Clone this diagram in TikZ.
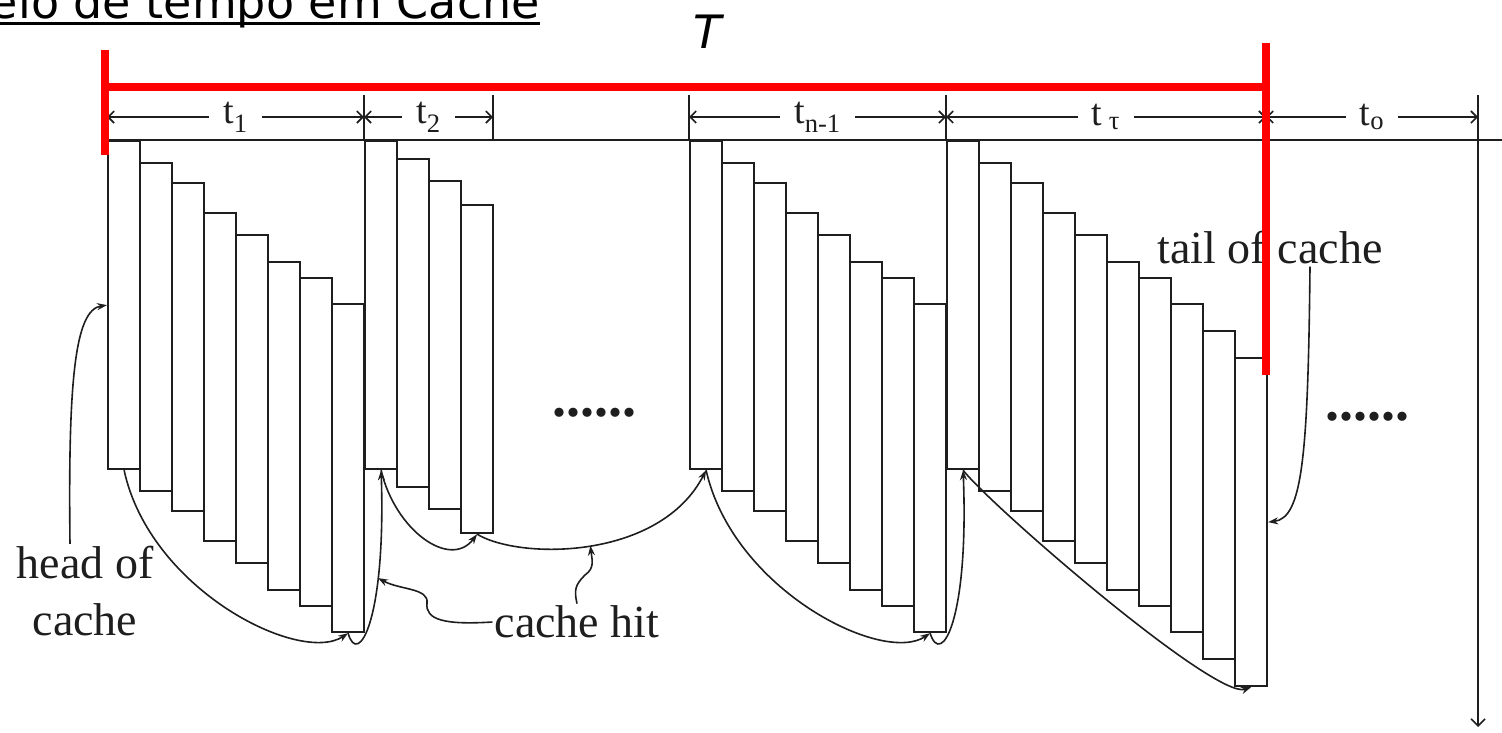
\documentclass[tikz,border=0pt]{standalone}
\usepackage{fontspec}
\setmainfont{Liberation Serif}
\newfontfamily\headfont{DejaVu Sans}
\usetikzlibrary{arrows.meta,positioning}
\definecolor{spanred}{RGB}{255,0,0}
\definecolor{inkgray}{RGB}{30,30,30}

\begin{document}
\begin{tikzpicture}[
    x=1pt, y=-1pt,
    bar/.style={rectangle, draw=inkgray, fill=white, line width=2.2pt, minimum width=32pt,
                minimum height=328pt, inner sep=0pt, anchor=north west},
    guide/.style={draw=inkgray, line width=1.6pt},
    dim/.style={guide, {Straight Barb[length=6pt,width=12pt]}-{Straight Barb[length=6pt,width=12pt]}},
    dimlabel/.style={fill=white, inner xsep=14pt, inner ysep=1pt, text=inkgray, font=\fontsize{38}{40}\selectfont},
    hit/.style={draw=inkgray, line width=1.6pt, -{Stealth[length=10pt,width=7pt]}},
    lbl/.style={font=\fontsize{46}{57}\selectfont, text=inkgray, align=center, inner sep=2pt},
    span/.style={draw=spanred, line width=8pt},
    dotrow/.style={font=\bfseries\fontsize{56}{60}\selectfont, text=inkgray, inner sep=0pt}
]
\useasboundingbox (0,0) rectangle (1502,732);
\clip (0,0) rectangle (1502,732);

% time line and interval marks
\coordinate (top0) at (107,140);
\coordinate (topend) at (1502,140);
\draw[guide] (top0) -- (topend);
\foreach \x [count=\i] in {107,364,493,689,946,1266,1478}
  \coordinate (e\i) at (\x,117);
\foreach \i in {1,...,6}
  \draw[guide] ([yshift=22pt]e\i) -- ([yshift=-23pt]e\i);
\draw[dim] (e1) -- node[dimlabel] {t\textsubscript{1}} (e2);
\draw[dim] (e2) -- node[dimlabel] {t\textsubscript{2}} (e3);
\draw[dim] (e4) -- node[dimlabel] {t\textsubscript{n-1}} (e5);
\draw[dim] (e5) -- node[dimlabel] {t\,\textsubscript{τ}} (e6);
\draw[dim] (e6) -- node[dimlabel] {t\textsubscript{o}} (e7);
\coordinate (axisend) at (1478,727);
\draw[guide, -{Straight Barb[length=7pt,width=14pt]}] ([yshift=22pt]e7) -- (axisend);

% cache contents, one bar per entry
\foreach \dy [count=\i] in {0,22,42,72,94,121,137,163}
  \node[bar] (a\i) at ({107+32*(\i-1)},{140+\dy}) {};
\foreach \dy [count=\i] in {0,18,40,64}
  \node[bar] (b\i) at ({364+32*(\i-1)},{140+\dy}) {};
\foreach \dy [count=\i] in {0,22,42,72,94,121,137,163}
  \node[bar] (c\i) at ({689+32*(\i-1)},{140+\dy}) {};
\foreach \dy [count=\i] in {0,22,42,72,94,121,137,163,190,217}
  \node[bar] (d\i) at ({946+32*(\i-1)},{140+\dy}) {};

\node[dotrow] (gapa) at (594,413) {......};
\node[dotrow] (gapb) at (1367,417) {......};

% hits between entries
\draw[hit] (a1.south) .. controls (150,590) and (300,665) .. (a8.south);
\draw[hit] (a8.south) .. controls (358,668) and (386,620) .. (b1.south) coordinate[pos=0.7] (hitA);
\draw[hit] (b1.south) .. controls (395,530) and (450,570) .. (b4.south);
\draw[hit] (b4.south) .. controls (520,560) and (660,560) .. (c1.south) coordinate[pos=0.5] (hitB);
\draw[hit] (c1.south) .. controls (733,590) and (883,665) .. (c8.south);
\draw[hit] (c8.south) .. controls (941,668) and (969,620) .. (d1.south);
\draw[hit] (d1.south) .. controls (990,505) and (1215,700) .. (d10.south);

% labels
\node[lbl] (head) at (85,591) {head of\\cache};
\node[lbl] (hitlbl) at (577,622) {cache hit};
\node[lbl] (tail) at (1270,248) {tail of cache};
\draw[hit] ([xshift=-15pt]head.north) .. controls (68,380) and (75,310) .. (a1.west);
\draw[hit] ([xshift=40pt]tail.south) .. controls (1308,460) and (1302,518) .. (d10.east);
\draw[hit] (hitlbl.west) .. controls (445,625) and (425,620) .. (427,603)
  .. controls (429,588) and (400,590) .. (hitA);
\draw[hit] (hitlbl.north) .. controls (574,590) and (575,585) .. (585,575)
  .. controls (595,568) and (592,560) .. (hitB);

% heading
\node[font=\headfont\fontsize{46}{50}\selectfont, anchor=base east, inner sep=0pt] (title) at (540,18) {elo de tempo em Cache};
\draw[line width=3pt] ([yshift=-5pt]title.base west) -- ([yshift=-5pt]title.base east);

% span T
\coordinate (sl) at (105,87);
\coordinate (sr) at (1266,87);
\node[font=\headfont\itshape\fontsize{46}{50}\selectfont, inner sep=0pt] (spanlbl) at (708,32) {T};
\draw[span] (105,50) -- (105,155);
\draw[span] (1266,43) -- (1266,375);
\draw[span] (sl) -- (sr);
\end{tikzpicture}
\end{document}
